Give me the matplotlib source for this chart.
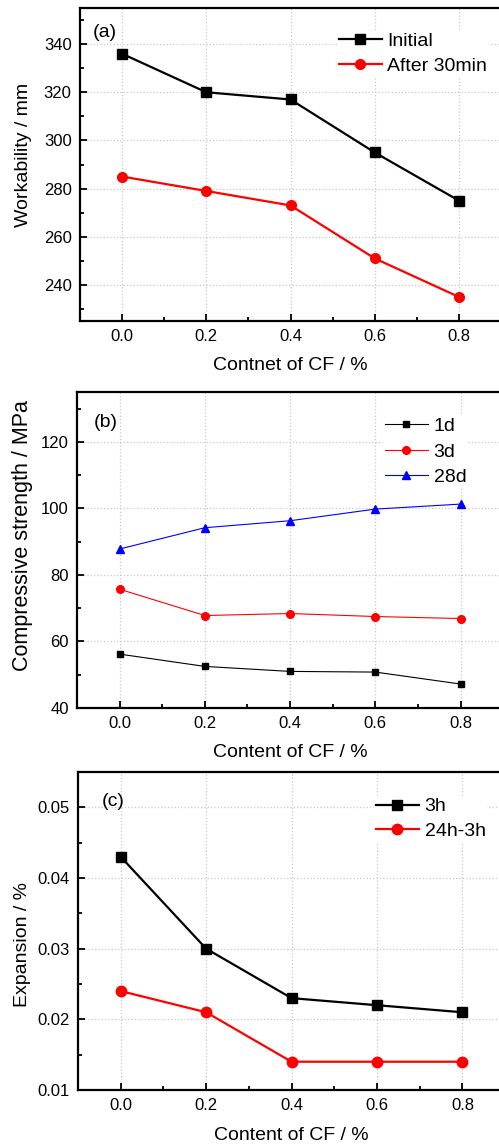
import numpy as np
import matplotlib
matplotlib.use("Agg")
import matplotlib.pyplot as plt
from matplotlib.ticker import MultipleLocator

plt.rcParams['font.family'] = ['Liberation Sans', 'DejaVu Sans']

# data
cf = [0.0, 0.2, 0.4, 0.6, 0.8]

work_initial = [336, 320, 317, 295, 275]
work_30min = [285, 279, 273, 251, 235]

cs_1d = [56.2, 52.5, 51.0, 50.8, 47.2]
cs_3d = [75.7, 67.8, 68.4, 67.5, 66.9]
cs_28d = [87.8, 94.2, 96.3, 99.8, 101.3]

exp_3h = [0.043, 0.030, 0.023, 0.022, 0.021]
exp_24h = [0.024, 0.021, 0.014, 0.014, 0.014]

W, H = 499, 1146
fig = plt.figure(figsize=(W / 100, H / 100), dpi=100)


def make_ax(left, top, right, bottom):
    return fig.add_axes([left / W, 1 - bottom / H, (right - left) / W, (bottom - top) / H])


def style(ax, ymajor, yminor):
    ax.set_xlim(-0.1, 0.9)
    ax.xaxis.set_major_locator(MultipleLocator(0.2))
    ax.xaxis.set_minor_locator(MultipleLocator(0.1))
    ax.yaxis.set_major_locator(MultipleLocator(ymajor))
    ax.yaxis.set_minor_locator(MultipleLocator(yminor))
    ax.tick_params(which='both', direction='in', top=False, right=False, labelsize=12, width=1.3)
    ax.tick_params(which='major', length=5, pad=6)
    ax.tick_params(which='minor', length=3)
    for s in ax.spines.values():
        s.set_linewidth(1.6)
    ax.grid(True, which='major', linestyle=':', color='#c8c8c8', linewidth=0.9)
    ax.set_axisbelow(True)


def legend(ax, x, y, spacing):
    leg = ax.legend(loc='upper left', bbox_to_anchor=(x, y), frameon=True, fancybox=False,
                    edgecolor='none', framealpha=1, fontsize=14, handlelength=2.2,
                    handletextpad=0.3, labelspacing=spacing, borderpad=0.1, borderaxespad=0)
    return leg


# (a) workability
ax1 = make_ax(80, 8, 501, 321)
ax1.plot(cf, work_initial, '-s', color='black', lw=1.6, ms=7, label='Initial')
ax1.plot(cf, work_30min, '-o', color='red', lw=1.6, ms=7, label='After 30min')
style(ax1, 20, 10)
ax1.set_ylim(225, 355)
ax1.set_xlabel('Contnet of CF / %', fontsize=14, labelpad=9)
ax1.set_ylabel('Workability / mm', fontsize=14)
ax1.yaxis.set_label_coords(-0.115, 0.529)
ax1.text(0.03, 0.95, '(a)', transform=ax1.transAxes, fontsize=14, va='top')
legend(ax1, 0.61, 0.928, 0.36)

# (b) compressive strength
ax2 = make_ax(77, 392, 77 + 426.25, 708)
ax2.plot(cf, cs_1d, '-s', color='black', lw=0.8, ms=5, label='1d')
ax2.plot(cf, cs_3d, '-o', color='red', lw=0.8, ms=5.5, label='3d')
ax2.plot(cf, cs_28d, '-^', color='blue', lw=0.8, ms=6, label='28d')
style(ax2, 20, 10)
ax2.set_ylim(40, 135)
ax2.set_xlabel('Content of CF / %', fontsize=14, labelpad=9)
ax2.set_ylabel('Compressive strength / MPa', fontsize=15.5)
ax2.yaxis.set_label_coords(-0.103, 0.547)
ax2.text(0.04, 0.93, '(b)', transform=ax2.transAxes, fontsize=14, va='top')
legend(ax2, 0.718, 0.925, 0.4)

# (c) expansion
ax3 = make_ax(78, 772, 78 + 427.1, 1090)
ax3.plot(cf, exp_3h, '-s', color='black', lw=1.6, ms=7.5, label='3h')
ax3.plot(cf, exp_24h, '-o', color='red', lw=1.6, ms=7.5, label='24h-3h')
style(ax3, 0.01, 0.005)
ax3.set_ylim(0.01, 0.055)
ax3.set_xlabel('Content of CF / %', fontsize=14, labelpad=10)
ax3.set_ylabel('Expansion / %', fontsize=14)
ax3.yaxis.set_label_coords(-0.109, 0.456)
ax3.text(0.055, 0.935, '(c)', transform=ax3.transAxes, fontsize=14, va='top')
legend(ax3, 0.693, 0.925, 0.36)

fig.savefig('out.png', dpi=100)
